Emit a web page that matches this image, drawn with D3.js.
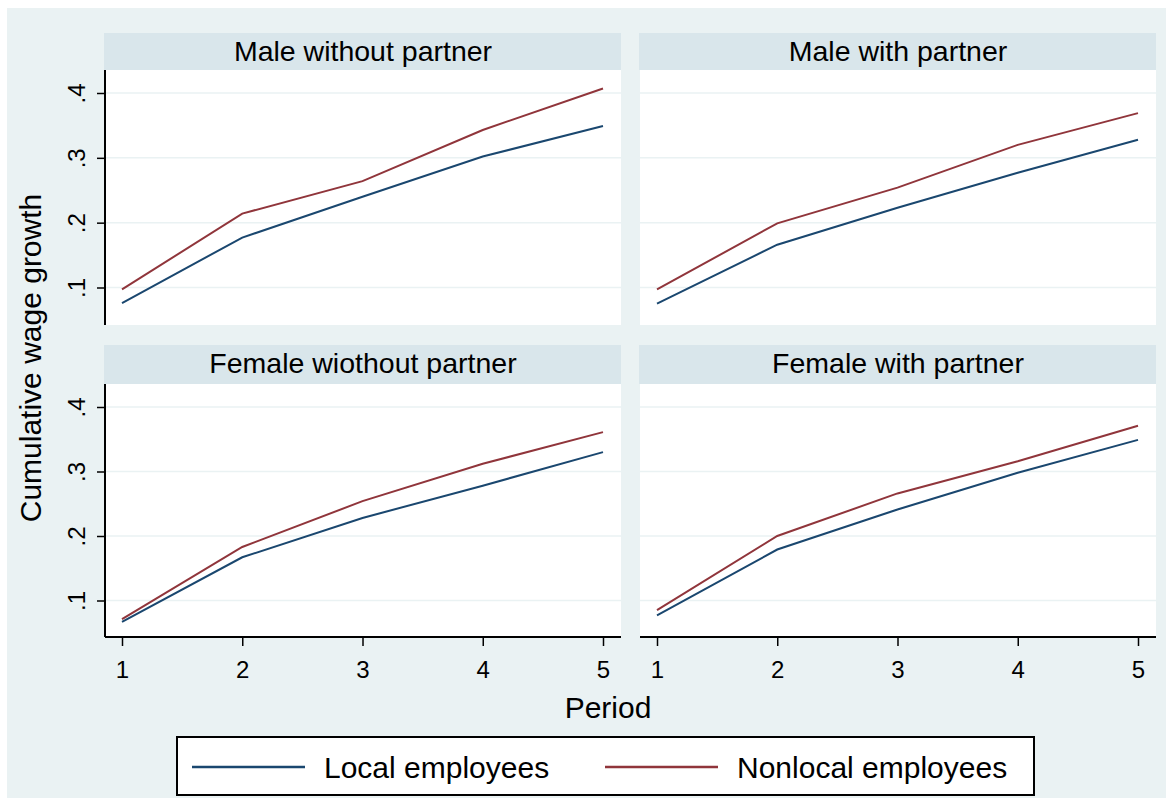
<!DOCTYPE html>
<html>
<head>
<meta charset="utf-8">
<script src="https://cdn.jsdelivr.net/npm/d3@7"></script>
<style>
  body { margin: 0; background: #ffffff; }
  text { font-family: "Liberation Sans", Arial, sans-serif; fill: #000; }
</style>
</head>
<body>
<div id="chart"></div>
<script>
// data
var periods = [1, 2, 3, 4, 5];
var panelTitles = ["Male without partner", "Male with partner", "Female wiothout partner", "Female with partner"];
var localGrowth = [
  [0.076, 0.177, 0.240, 0.302, 0.349],
  [0.075, 0.166, 0.223, 0.277, 0.328],
  [0.067, 0.167, 0.228, 0.278, 0.330],
  [0.077, 0.179, 0.241, 0.298, 0.349]
];
var nonlocalGrowth = [
  [0.097, 0.214, 0.264, 0.343, 0.407],
  [0.097, 0.199, 0.254, 0.320, 0.369],
  [0.071, 0.183, 0.254, 0.312, 0.361],
  [0.085, 0.200, 0.266, 0.316, 0.371]
];
var yTicks = [0.1, 0.2, 0.3, 0.4];
var yTickLabels = [".1", ".2", ".3", ".4"];
var seriesNames = ["Local employees", "Nonlocal employees"];

// canvas
var width = 1171, height = 798;
var bgColor = "#eaf2f3", stripColor = "#d9e6eb", gridColor = "#eaf2f3";
var colors = ["#1a476f", "#90353b"];

var svg = d3.select("#chart").append("svg")
  .attr("width", width).attr("height", height);

// outer graph region
svg.append("rect").attr("x", 7).attr("y", 8)
  .attr("width", 1159).attr("height", 790).attr("fill", bgColor);

// panel geometry: two columns, two rows
var colLeft = [105, 640];
var panelW = 516;
var rows = [
  { stripTop: 33, top: 70, bottom: 325, y1: 287.5, y4: 93 },
  { stripTop: 345, top: 384, bottom: 637, y1: 600.5, y4: 407 }
];

var lineGen = d3.line();

panelTitles.forEach(function(title, i) {
  var c = i % 2, r = Math.floor(i / 2);
  var row = rows[r];
  var x0 = colLeft[c];
  var xScale = d3.scaleLinear().domain([1, 5]).range([x0 + 17, x0 + 498]);
  var yScale = d3.scaleLinear().domain([0.1, 0.4]).range([row.y1, row.y4]);

  var g = svg.append("g").attr("class", "panel");
  // strip
  g.append("rect").attr("x", x0 - 1).attr("y", row.stripTop)
    .attr("width", panelW + 1).attr("height", row.top - row.stripTop)
    .attr("fill", stripColor);
  g.append("text").attr("x", x0 + panelW / 2).attr("y", row.stripTop + 28)
    .attr("text-anchor", "middle").attr("font-size", 28.5).text(title);
  // plot region
  g.append("rect").attr("x", x0).attr("y", row.top)
    .attr("width", panelW).attr("height", row.bottom - row.top)
    .attr("fill", "#ffffff");
  // grid
  g.selectAll("line.grid").data(yTicks).enter().append("line")
    .attr("class", "grid")
    .attr("x1", x0).attr("x2", x0 + panelW)
    .attr("y1", function(d) { return yScale(d); })
    .attr("y2", function(d) { return yScale(d); })
    .attr("stroke", gridColor).attr("stroke-width", 1.5);

  // series
  [localGrowth[i], nonlocalGrowth[i]].forEach(function(vals, s) {
    g.append("path")
      .attr("d", lineGen(periods.map(function(p, k) { return [xScale(p), yScale(vals[k])]; })))
      .attr("fill", "none").attr("stroke", colors[s]).attr("stroke-width", 2);
  });

  // y axis on left column
  if (c === 0) {
    var yAxis = d3.axisLeft(yScale).tickValues(yTicks)
      .tickFormat(function(d, k) { return yTickLabels[k]; }).tickSize(8).tickSizeOuter(0);
    var ya = g.append("g").attr("transform", "translate(" + x0 + ",0)").call(yAxis);
    ya.select(".domain").attr("d", "M0," + row.top + "V" + row.bottom)
      .attr("stroke", "#000").attr("stroke-width", 2);
    ya.selectAll(".tick line").attr("stroke", "#000").attr("stroke-width", 1.5);
    ya.selectAll(".tick text")
      .attr("transform", "rotate(-90)")
      .attr("x", 0).attr("y", -20).attr("dy", 0)
      .attr("text-anchor", "middle")
      .attr("font-size", 24).attr("font-family", null);
  }
  // x axis on bottom row
  if (r === 1) {
    var xAxis = d3.axisBottom(xScale).tickValues(periods)
      .tickFormat(d3.format("d")).tickSize(9).tickSizeOuter(0);
    var xa = g.append("g").attr("transform", "translate(0," + row.bottom + ")").call(xAxis);
    xa.select(".domain").attr("d", "M" + x0 + ",0H" + (x0 + panelW))
      .attr("stroke", "#000").attr("stroke-width", 2);
    xa.selectAll(".tick line").attr("stroke", "#000").attr("stroke-width", 1.5);
    xa.selectAll(".tick text").attr("y", 0).attr("dy", 41)
      .attr("font-size", 24).attr("font-family", null);
  }
});

// axis titles
svg.append("text").attr("transform", "translate(41,358) rotate(-90)")
  .attr("text-anchor", "middle").attr("font-size", 30).text("Cumulative wage growth");
svg.append("text").attr("x", 608).attr("y", 718)
  .attr("text-anchor", "middle").attr("font-size", 30).text("Period");

// legend
var legend = svg.append("g").attr("class", "legend");
legend.append("rect").attr("x", 177).attr("y", 737).attr("width", 857).attr("height", 58)
  .attr("fill", "#ffffff").attr("stroke", "#000").attr("stroke-width", 2);
var legX = [192, 605];
seriesNames.forEach(function(name, s) {
  legend.append("line").attr("x1", legX[s]).attr("x2", legX[s] + 113)
    .attr("y1", 767).attr("y2", 767)
    .attr("stroke", colors[s]).attr("stroke-width", 2.5);
  legend.append("text").attr("x", legX[s] + 132).attr("y", 778)
    .attr("font-size", 30).text(name);
});
</script>
</body>
</html>
